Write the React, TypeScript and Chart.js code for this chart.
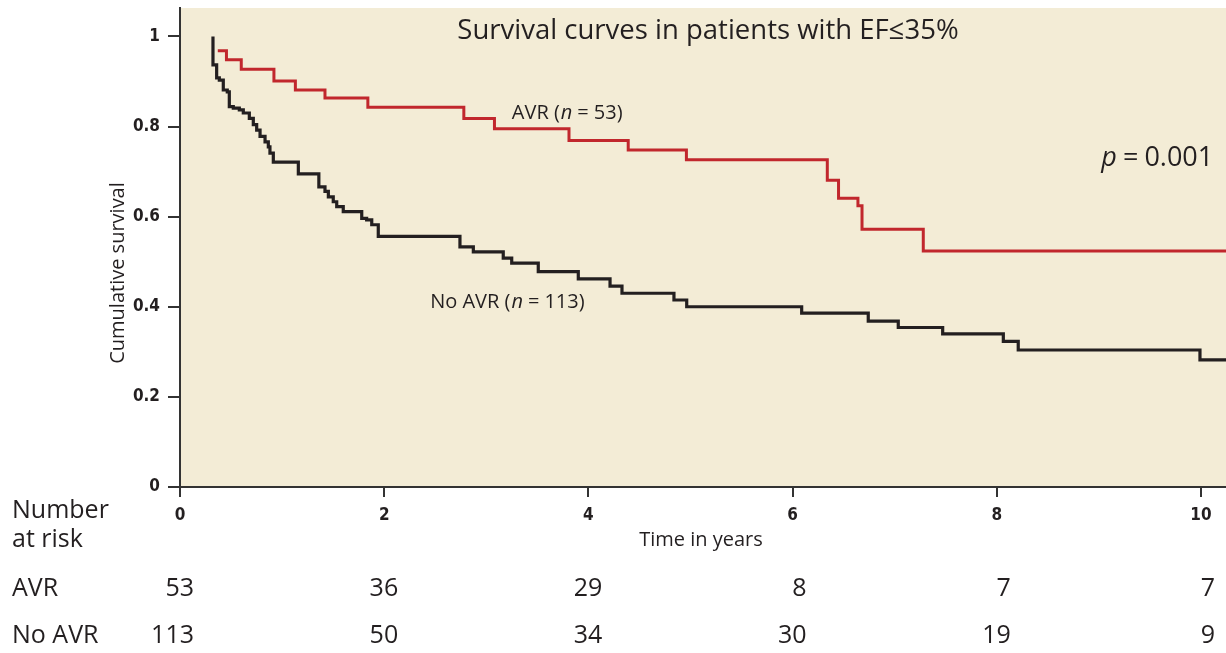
import React, { useEffect, useRef } from 'react';
import { Chart, registerables } from 'chart.js';

Chart.register(...registerables);

// Kaplan–Meier step points: time (years) at which survival changes, and the new survival value
const avrTimes = [0.37, 0.455, 0.6, 0.92, 1.13, 1.42, 1.84, 2.78, 3.08, 3.81, 4.39, 4.96, 6.34, 6.45, 6.64, 6.68, 7.28, 10.245];
const avrSurvival = [0.968, 0.948, 0.927, 0.901, 0.881, 0.863, 0.843, 0.818, 0.795, 0.769, 0.748, 0.726, 0.681, 0.641, 0.624, 0.572, 0.524, 0.524];

const noAvrTimes = [
  0.323, 0.323, 0.359, 0.385, 0.424, 0.463, 0.483, 0.522, 0.581, 0.62, 0.679, 0.718, 0.751, 0.784, 0.833, 0.865,
  0.881, 0.914, 1.159, 1.36, 1.42, 1.453, 1.501, 1.535, 1.599, 1.78, 1.828, 1.878, 1.942, 2.742, 2.873, 3.166,
  3.249, 3.509, 3.901, 4.212, 4.329, 4.838, 4.963, 6.089, 6.741, 7.035, 7.47, 8.064, 8.21, 9.99, 10.245,
];
const noAvrSurvival = [
  1.0, 0.937, 0.908, 0.903, 0.881, 0.877, 0.844, 0.841, 0.837, 0.83, 0.818, 0.804, 0.792, 0.778, 0.766, 0.755,
  0.741, 0.721, 0.695, 0.666, 0.656, 0.644, 0.633, 0.622, 0.611, 0.596, 0.593, 0.582, 0.556, 0.533, 0.522, 0.508,
  0.497, 0.478, 0.462, 0.446, 0.43, 0.415, 0.4, 0.386, 0.368, 0.354, 0.34, 0.323, 0.304, 0.282, 0.282,
];

const xTickValues = [0, 2, 4, 6, 8, 10];
const yTickValues = [0, 0.2, 0.4, 0.6, 0.8, 1];
const avrAtRisk = [53, 36, 29, 8, 7, 7];
const noAvrAtRisk = [113, 50, 34, 30, 19, 9];

const chartTitle = 'Survival curves in patients with EF\u226435%';
const xTitle = 'Time in years';
const yTitle = 'Cumulative survival';
const avrLabel = 'AVR';
const avrN = 53;
const noAvrLabel = 'No AVR';
const noAvrN = 113;
const pValue = '0.001';

const BG = '#f3ecd6';
const INK = '#231f20';
const RED = '#c1272d';
const MAIN_FONT = "'Open Sans', 'Liberation Sans', Arial, sans-serif";
const NARROW_FONT = "'Liberation Sans Narrow', 'DejaVu Sans Condensed', 'Liberation Sans', sans-serif";

type Run = { text: string; italic?: boolean; gap?: number };

function drawRuns(ctx: CanvasRenderingContext2D, runs: Run[], x: number, y: number, size: number, align: 'left' | 'right' | 'center') {
  const fontFor = (r: Run) => `${r.italic ? 'italic ' : ''}${size}px ${MAIN_FONT}`;
  let total = 0;
  const widths = runs.map((r) => {
    ctx.font = fontFor(r);
    const w = ctx.measureText(r.text).width + (r.gap || 0);
    total += w;
    return w;
  });
  let cx = align === 'left' ? x : align === 'right' ? x - total : x - total / 2;
  ctx.textAlign = 'left';
  ctx.textBaseline = 'middle';
  runs.forEach((r, i) => {
    ctx.font = fontFor(r);
    ctx.fillText(r.text, cx, y);
    cx += widths[i];
  });
}

const textPlugin = {
  id: 'kmTexts',
  beforeDraw(chart: any) {
    const { ctx, chartArea: a } = chart;
    ctx.save();
    ctx.fillStyle = BG;
    ctx.fillRect(a.left, a.top, a.right - a.left, a.bottom - a.top);
    ctx.restore();
  },
  afterDraw(chart: any) {
    const { ctx, scales } = chart;
    const xs = scales.x;
    const ys = scales.y;
    ctx.save();
    ctx.fillStyle = INK;

    // chart title inside plot area
    ctx.font = `27.5px ${MAIN_FONT}`;
    ctx.textAlign = 'center';
    ctx.textBaseline = 'middle';
    ctx.fillText(chartTitle, 708, 31);

    // series labels
    drawRuns(ctx, [{ text: `${avrLabel} (`, gap: 1 }, { text: 'n', italic: true, gap: 5 }, { text: '=', gap: 5 }, { text: `${avrN})` }],
      xs.getPixelForValue(3.25), ys.getPixelForValue(0.83), 20, 'left');
    drawRuns(ctx, [{ text: `${noAvrLabel} (`, gap: 1 }, { text: 'n', italic: true, gap: 5 }, { text: '=', gap: 5 }, { text: `${noAvrN})` }],
      xs.getPixelForValue(2.45), ys.getPixelForValue(0.411), 20, 'left');
    drawRuns(ctx, [{ text: 'p', italic: true, gap: 6 }, { text: '=', gap: 6 }, { text: pValue }],
      xs.getPixelForValue(10.12), ys.getPixelForValue(0.73), 27, 'right');

    // axis titles
    ctx.font = `20px ${MAIN_FONT}`;
    ctx.textAlign = 'center';
    ctx.textBaseline = 'middle';
    ctx.fillText(xTitle, 701, 540);
    ctx.save();
    ctx.translate(118, 273);
    ctx.rotate(-Math.PI / 2);
    ctx.fillText(yTitle, 0, 0);
    ctx.restore();

    // number at risk table
    ctx.font = `25px ${MAIN_FONT}`;
    ctx.textAlign = 'left';
    ctx.textBaseline = 'middle';
    ctx.fillText('Number', 12, 511);
    ctx.fillText('at risk', 12, 540);
    ctx.fillText(avrLabel, 12, 589);
    ctx.fillText(noAvrLabel, 12, 636);
    ctx.textAlign = 'right';
    xTickValues.forEach((t, i) => {
      const px = xs.getPixelForValue(t) + 14;
      ctx.fillText(String(avrAtRisk[i]), px, 589);
      ctx.fillText(String(noAvrAtRisk[i]), px, 636);
    });
    ctx.restore();
  },
};

export default function App() {
  const canvasRef = useRef<HTMLCanvasElement | null>(null);

  useEffect(() => {
    if (!canvasRef.current) return;
    const toPoints = (ts: number[], vs: number[]) => ts.map((t, i) => ({ x: t, y: vs[i] }));
    const chart = new Chart(canvasRef.current, {
      type: 'scatter',
      data: {
        datasets: [
          {
            label: noAvrLabel,
            data: toPoints(noAvrTimes, noAvrSurvival),
            showLine: true,
            stepped: 'before',
            borderColor: INK,
            borderWidth: 3.2,
            pointRadius: 0,
            borderJoinStyle: 'miter',
            borderCapStyle: 'butt',
          },
          {
            label: avrLabel,
            data: toPoints(avrTimes, avrSurvival),
            showLine: true,
            stepped: 'before',
            borderColor: RED,
            borderWidth: 3,
            pointRadius: 0,
            borderJoinStyle: 'miter',
            borderCapStyle: 'butt',
          },
        ],
      } as any,
      options: {
        animation: false,
        responsive: false,
        devicePixelRatio: 1,
        layout: { padding: { top: 8, right: 0, left: 0, bottom: 0 } },
        plugins: { legend: { display: false }, tooltip: { enabled: false }, title: { display: false } },
        scales: {
          x: {
            type: 'linear',
            min: 0,
            max: 10.245,
            afterFit: (s: any) => {
              s.height = 653 - 487;
              s.paddingLeft = 0;
              s.paddingRight = 0;
            },
            afterBuildTicks: (s: any) => { s.ticks = xTickValues.map((v) => ({ value: v })); },
            ticks: {
              autoSkip: false,
              maxRotation: 0,
              padding: 8,
              color: INK,
              font: { family: NARROW_FONT, size: 17, weight: 'bold' },
              callback: (v: any) => String(v),
            },
            grid: { drawOnChartArea: false, drawTicks: true, tickLength: 10, color: '#333', lineWidth: 2 },
            border: { display: true, color: '#333', width: 2 },
          },
          y: {
            type: 'linear',
            min: 0,
            max: 1.063,
            afterFit: (s: any) => {
              s.width = 180;
              s.paddingTop = 0;
              s.paddingBottom = 0;
            },
            afterBuildTicks: (s: any) => { s.ticks = yTickValues.map((v) => ({ value: v })); },
            ticks: {
              padding: 8,
              color: INK,
              font: { family: NARROW_FONT, size: 17, weight: 'bold' },
              callback: (v: any) => String(Math.round(v * 10) / 10),
            },
            grid: { drawOnChartArea: false, drawTicks: true, tickLength: 12, color: '#333', lineWidth: 2 },
            border: { display: true, color: '#333', width: 2 },
          },
        },
      } as any,
      plugins: [textPlugin],
    });
    return () => chart.destroy();
  }, []);

  return (
    <div style={{ position: 'fixed', left: 0, top: 0, width: 1226, height: 653, background: '#fff' }}>
      <canvas ref={canvasRef} width={1226} height={653} style={{ width: 1226, height: 653, display: 'block' }} />
    </div>
  );
}
